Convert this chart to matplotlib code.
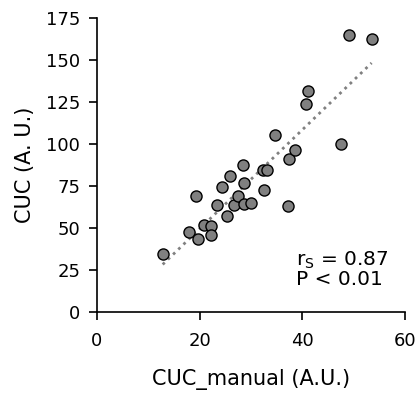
import numpy as np
import matplotlib.pyplot as plt

# CUC manual vs automatic
cuc_manual = [12.8, 18.0, 19.6, 19.3, 20.8, 22.2, 22.3, 23.3, 24.4, 25.3,
              26.0, 26.7, 27.4, 28.5, 28.7, 28.7, 30.1, 32.5, 32.3, 33.2,
              37.2, 34.7, 37.5, 38.6, 40.7, 41.1, 47.5, 49.1, 53.5]
cuc_auto = [34.7, 47.6, 43.9, 69.0, 52.2, 51.2, 46.2, 64.1, 74.8, 57.4,
            81.4, 63.7, 69.0, 87.7, 77.0, 64.3, 65.1, 72.6, 84.9, 84.9,
            63.3, 105.4, 91.5, 96.4, 123.8, 131.5, 100.0, 165.0, 162.3]
x_ticks = [0, 20, 40, 60]
y_ticks = [0, 25, 50, 75, 100, 125, 150, 175]

plt.rcParams['font.family'] = ['DejaVu Sans']

fig = plt.figure(figsize=(4.19, 3.94), dpi=100)
ax = fig.add_axes([0.2315, 0.207, 0.735, 0.747])

x = np.array(cuc_manual)
y = np.array(cuc_auto)

# linear trend line
k, b = np.polyfit(x, y, 1)
xl = np.array([x.min(), x.max()])
ax.plot(xl, k * xl + b, linestyle=(0, (1, 1.6)), color='#808080', lw=2, zorder=1)

ax.scatter(x, y, s=64, color='#808080', edgecolors='black', linewidths=1, zorder=2)

ax.set_xlim(0, 60)
ax.set_ylim(0, 175)
ax.set_xticks(x_ticks)
ax.set_yticks(y_ticks)
ax.spines['top'].set_visible(False)
ax.spines['right'].set_visible(False)
ax.spines['left'].set_linewidth(1.2)
ax.spines['bottom'].set_linewidth(1.2)
ax.tick_params(direction='out', length=6, width=1.2, labelsize=13)
ax.tick_params(axis='x', pad=8)
ax.tick_params(axis='y', pad=6)

ax.set_xlabel('CUC_manual (A.U.)', fontsize=15, labelpad=14)
ax.set_ylabel('CUC (A. U.)', fontsize=15, labelpad=8)

ax.text(38.8, 14, '$\\mathregular{r_S}$ = 0.87\nP < 0.01', fontsize=14.5,
        linespacing=0.95, va='bottom', ha='left')

fig.savefig('out.png', dpi=100)
